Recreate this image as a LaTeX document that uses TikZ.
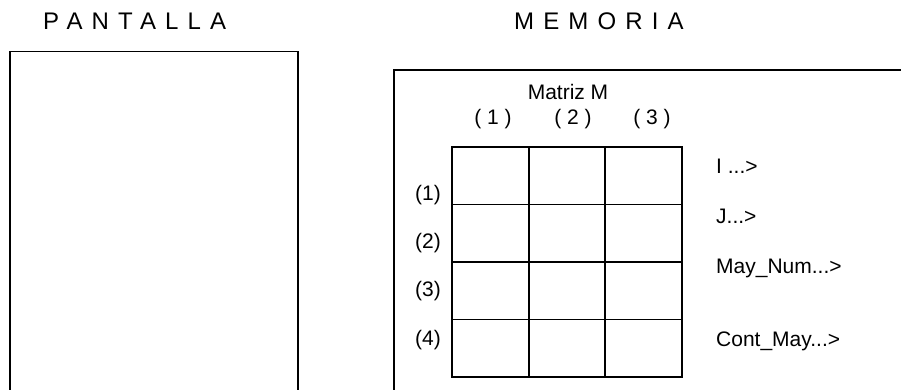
\documentclass[tikz,border=0pt]{standalone}
\usepackage{fontspec}
\setmainfont{Liberation Sans}
\begin{document}
\begin{tikzpicture}[x=1pt,y=-1pt,
  frame/.style={line width=1.8pt,line cap=butt},
  cell/.style={draw,line width=1.8pt,minimum width=76.67pt,minimum height=57.5pt,inner sep=0pt,anchor=center},
  lbl/.style={inner sep=0pt,font=\fontsize{21}{25}\selectfont},
  title/.style={inner sep=0pt,anchor=base west,font=\fontsize{24}{28}\selectfont\addfontfeature{LetterSpace=38}}]
\useasboundingbox (0,0) rectangle (901,390);
% titles
\node[title] (tp) at (43,30) {PANTALLA};
\node[title] (tm) at (514,30) {MEMORIA};
% frames
\draw[frame] (10,390) -- (10,51.5) -- (298,51.5) -- (298,390);
\draw[frame] (394,390) -- (394,70) -- (901,70);
% matrix cells
\foreach \r/\y in {1/175.75,2/233.25,3/290.75,4/348.25}{
  \foreach \c/\x in {1/490.33,2/567,3/643.67}{
    \node[cell] (c\r\c) at (\x,\y) {};
  }
}
% headers
\node[lbl,anchor=base] (mm) at (568,100) {Matriz M};
\node[lbl,anchor=base] (h1) at (493,125) {( 1 )};
\node[lbl,anchor=base] (h2) at (573,125) {( 2 )};
\node[lbl,anchor=base] (h3) at (652,125) {( 3 )};
% row labels
\node[lbl,anchor=base] (r1) at (428,200) {(1)};
\node[lbl,anchor=base] (r2) at (428,248) {(2)};
\node[lbl,anchor=base] (r3) at (428,296) {(3)};
\node[lbl,anchor=base] (r4) at (428,345) {(4)};
% variables
\node[lbl,anchor=base west] (vi) at (716,174) {I ...>};
\node[lbl,anchor=base west] (vj) at (716,223) {J...>};
\node[lbl,anchor=base west] (vm) at (716,273) {May\_Num...>};
\node[lbl,anchor=base west] (vc) at (716,346) {Cont\_May...>};
\end{tikzpicture}
\end{document}
